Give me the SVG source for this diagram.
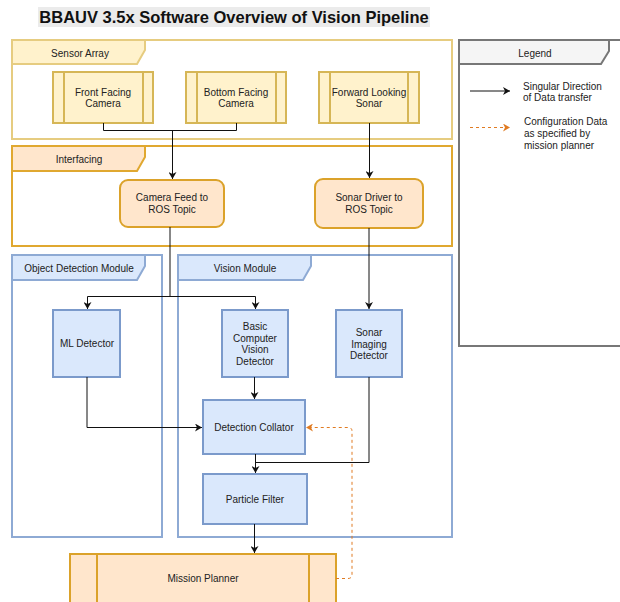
<svg xmlns="http://www.w3.org/2000/svg" width="620" height="602" viewBox="0 0 620 602">
<defs>
<style>
text{font-family:"Liberation Sans",Arial,sans-serif;font-size:10px;fill:#222;text-anchor:middle}
.title{font-size:16.5px;font-weight:bold;fill:#111}
.ycont{fill:#fff;stroke:#e6cc80;stroke-width:2}
.ytab{fill:#fff2cc;stroke:#e6cc80;stroke-width:2}
.ocont{fill:#fff;stroke:#e0a830;stroke-width:2}
.otab{fill:#ffe6cc;stroke:#e0a830;stroke-width:2}
.bcont{fill:#fff;stroke:#8eaad4;stroke-width:2}
.btab{fill:#dae8fc;stroke:#8eaad4;stroke-width:2}
.gcont{fill:#fff;stroke:#777;stroke-width:2}
.gtab{fill:#f5f5f5;stroke:#777;stroke-width:2}
.ynode{fill:#fff2cc;stroke:#d6b656;stroke-width:2}
.onode{fill:#ffe6cc;stroke:#dba22a;stroke-width:2}
.bnode{fill:#dae8fc;stroke:#7b9acb;stroke-width:2}
.edge{fill:none;stroke:#111;stroke-width:1}
.dash{fill:none;stroke:#e07b22;stroke-width:1;stroke-dasharray:3 3}
</style>
<marker id="ah" markerWidth="8" markerHeight="8" refX="7" refY="4" orient="auto" markerUnits="userSpaceOnUse">
<path d="M0,0 L7,4 L0,8 L2,4 Z" fill="#111"/>
</marker>
<marker id="aho" markerWidth="8" markerHeight="8" refX="7" refY="4" orient="auto" markerUnits="userSpaceOnUse">
<path d="M0,0 L7,4 L0,8 L2,4 Z" fill="#e07b22"/>
</marker>
</defs>
<rect x="0" y="0" width="620" height="602" fill="#fff"/>
<g id="title">
<rect x="38" y="7" width="392" height="20" fill="#ebebeb"/>
<text class="title" x="234" y="23">BBAUV 3.5x Software Overview of Vision Pipeline</text>
</g>
<g id="sensor-array">
<rect class="ycont" x="12" y="40" width="440" height="99"/>
<path class="ytab" d="M12,40 H145 V50 L137,64 H12 Z"/>
<text x="80" y="56.5">Sensor Array</text>
</g>
<g id="interfacing">
<rect class="ocont" x="12" y="146" width="440" height="100"/>
<path class="otab" d="M12,146 H145 V157 L137,171 H12 Z"/>
<text x="79" y="162.5">Interfacing</text>
</g>
<g id="object-detection-module">
<rect class="bcont" x="12" y="255" width="150" height="282"/>
<path class="btab" d="M12,255 H145 V266 L137,280 H12 Z"/>
<text x="79" y="271.5">Object Detection Module</text>
</g>
<g id="vision-module">
<rect class="bcont" x="178" y="255" width="274" height="282"/>
<path class="btab" d="M178,255 H311 V266 L303,280 H178 Z"/>
<text x="245" y="271.5">Vision Module</text>
</g>
<g id="legend">
<rect class="gcont" x="459" y="40" width="170" height="306"/>
<path class="gtab" d="M459,40 H609 V51 L601,64 H459 Z"/>
<text x="535" y="56.5">Legend</text>
<line class="edge" x1="470" y1="91" x2="510" y2="91" marker-end="url(#ah)"/>
<text x="523" y="90" style="text-anchor:start">Singular Direction</text>
<text x="523" y="101" style="text-anchor:start">of Data transfer</text>
<line class="dash" x1="470" y1="127.5" x2="510" y2="127.5" marker-end="url(#aho)"/>
<text x="524" y="125" style="text-anchor:start">Configuration Data</text>
<text x="524" y="137" style="text-anchor:start">as specified by</text>
<text x="524" y="149" style="text-anchor:start">mission planner</text>
</g>
<g id="front-facing-camera">
<rect class="ynode" x="53" y="72" width="100" height="51"/>
<line class="ynode" x1="64" y1="72" x2="64" y2="123"/>
<line class="ynode" x1="143" y1="72" x2="143" y2="123"/>
<text x="103" y="95.5">Front Facing</text>
<text x="103" y="107">Camera</text>
</g>
<g id="bottom-facing-camera">
<rect class="ynode" x="186" y="72" width="100" height="51"/>
<line class="ynode" x1="197" y1="72" x2="197" y2="123"/>
<line class="ynode" x1="276" y1="72" x2="276" y2="123"/>
<text x="236" y="95.5">Bottom Facing</text>
<text x="236" y="107">Camera</text>
</g>
<g id="forward-looking-sonar">
<rect class="ynode" x="319" y="72" width="100" height="51"/>
<line class="ynode" x1="330" y1="72" x2="330" y2="123"/>
<line class="ynode" x1="408" y1="72" x2="408" y2="123"/>
<text x="369" y="95.5">Forward Looking</text>
<text x="369" y="107">Sonar</text>
</g>
<g id="camera-feed">
<rect class="onode" x="120" y="180" width="104" height="47" rx="8"/>
<text x="172" y="201">Camera Feed to</text>
<text x="172" y="213">ROS Topic</text>
</g>
<g id="sonar-driver">
<rect class="onode" x="315" y="179" width="108" height="49" rx="8"/>
<text x="369" y="201">Sonar Driver to</text>
<text x="369" y="213">ROS Topic</text>
</g>
<g id="ml-detector">
<rect class="bnode" x="53" y="310" width="67" height="67"/>
<text x="87" y="347">ML Detector</text>
</g>
<g id="basic-cv-detector">
<rect class="bnode" x="222" y="310" width="66" height="67"/>
<text x="255" y="330">Basic</text>
<text x="255" y="341.5">Computer</text>
<text x="255" y="353">Vision</text>
<text x="255" y="364.5">Detector</text>
</g>
<g id="sonar-imaging-detector">
<rect class="bnode" x="336" y="310" width="66" height="67"/>
<text x="369" y="336">Sonar</text>
<text x="369" y="347.5">Imaging</text>
<text x="369" y="359">Detector</text>
</g>
<g id="detection-collator">
<rect class="bnode" x="203" y="400" width="102" height="54"/>
<text x="254" y="430.5">Detection Collator</text>
</g>
<g id="particle-filter">
<rect class="bnode" x="203" y="474" width="104" height="50"/>
<text x="255" y="502.5">Particle Filter</text>
</g>
<g id="mission-planner">
<rect class="onode" x="70" y="554" width="266" height="60"/>
<line class="onode" x1="97" y1="554" x2="97" y2="602"/>
<line class="onode" x1="309" y1="554" x2="309" y2="602"/>
<text x="203" y="582">Mission Planner</text>
</g>
<g id="connectors">
<path class="edge" d="M103.5,123 V130.5 H236.5 V123"/>
<path class="edge" d="M172.5,130.5 V179" marker-end="url(#ah)"/>
<path class="edge" d="M369.5,123 V178" marker-end="url(#ah)"/>
<path class="edge" d="M170,227 V296.5"/>
<path class="edge" d="M170,296.5 H87.5 V309" marker-end="url(#ah)"/>
<path class="edge" d="M170,296.5 H255.5 V309" marker-end="url(#ah)"/>
<path class="edge" d="M369,228 V309" marker-end="url(#ah)"/>
<path class="edge" d="M87,377 V427.5 H202" marker-end="url(#ah)"/>
<path class="edge" d="M254.5,377 V399" marker-end="url(#ah)"/>
<path class="edge" d="M255.5,454 V473" marker-end="url(#ah)"/>
<path class="edge" d="M369,377 V462.5 H255.5"/>
<path class="edge" d="M254.5,524 V553" marker-end="url(#ah)"/>
<path class="dash" d="M336,578.5 H348 Q352,578.5 352,574.5 V431 Q352,427.5 348,427.5 H306" marker-end="url(#aho)"/>
</g>
</svg>
